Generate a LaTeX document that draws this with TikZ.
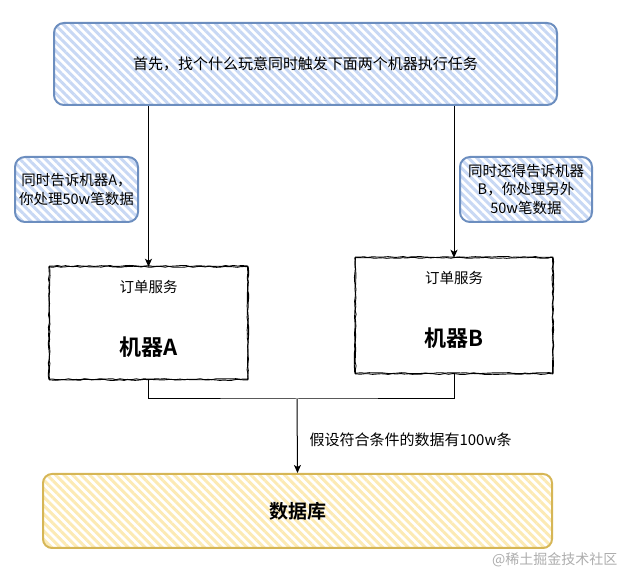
\documentclass[tikz,border=0pt]{standalone}
\usepackage{fontspec}
\setmainfont{Noto Sans CJK SC}[BoldFont={Noto Sans CJK SC Bold}]
\usetikzlibrary{arrows.meta,patterns.meta,decorations.pathmorphing}
\definecolor{bstroke}{HTML}{6C8EBF}
\definecolor{bhatch}{HTML}{C8D8F4}
\definecolor{ystroke}{HTML}{D6B656}
\definecolor{yhatch}{HTML}{FCEAB4}
\tikzset{
  txt/.style={font=\fontsize{14.5}{18.5}\selectfont},
  bluebox/.style={draw=bstroke, line width=2pt, rounded corners=10pt,
    pattern={Lines[angle=-45,distance=6pt,line width=3pt]}, pattern color=bhatch,
    align=center, inner sep=2pt, txt},
  dbbox/.style={draw=ystroke, line width=2pt, rounded corners=9pt,
    pattern={Lines[angle=-45,distance=6pt,line width=3pt]}, pattern color=yhatch,
    align=center},
  machine/.style={draw=none, fill=white, inner sep=0pt},
  sketch/.style={draw=black, line width=0.9pt,
    decorate, decoration={random steps, segment length=4pt, amplitude=0.55pt}},
  arr/.style={draw=black, line width=1pt, -{Stealth[length=8pt,width=7pt,inset=2pt]}},
  conn/.style={draw=black, line width=1pt},
}
\begin{document}
\begin{tikzpicture}[x=1pt,y=1pt]
\useasboundingbox (0,0) rectangle (625,572);
% top box
\node[bluebox, minimum width=503pt, minimum height=82pt, font=\fontsize{15}{19}\selectfont] (top) at (305.5,508)
  {首先，找个什么玩意同时触发下面两个机器执行任务};
% label boxes
\node[bluebox, minimum width=123pt, minimum height=65pt] (la) at (76.5,382.5)
  {同时告诉机器A，\\你处理50w笔数据};
\node[bluebox, minimum width=132pt, minimum height=65pt] (lb) at (526,382.5)
  {同时还得告诉机器\\B，你处理另外\\50w笔数据};
% machines
\node[machine, minimum width=199pt, minimum height=112pt] (ma) at (148.5,249) {};
\draw[sketch] (ma.south west) rectangle (ma.north east);
\draw[sketch] ([shift={(0.8,-0.7)}]ma.south west) rectangle ([shift={(-0.6,0.8)}]ma.north east);
\node[txt] (maT) at ([yshift=-20pt]ma.north) {订单服务};
\node[font=\fontsize{22}{26}\selectfont\bfseries] (maN) at ([yshift=-80pt]ma.north) {机器A};

\node[machine, minimum width=198pt, minimum height=115pt] (mb) at (454,256.5) {};
\draw[sketch] (mb.south west) rectangle (mb.north east);
\draw[sketch] ([shift={(0.8,-0.7)}]mb.south west) rectangle ([shift={(-0.6,0.8)}]mb.north east);
\node[txt] (mbT) at ([yshift=-20pt]mb.north) {订单服务};
\node[font=\fontsize{22}{26}\selectfont\bfseries] (mbN) at ([yshift=-80pt]mb.north) {机器B};

% database
\node[dbbox, minimum width=509pt, minimum height=74pt, font=\fontsize{19}{23}\selectfont\bfseries] (db) at (297.5,61) {数据库};

% connectors
\draw[arr] (top.south -| ma.north) -- (ma.north);
\draw[arr] (top.south -| mb.north) -- (mb.north);
\coordinate (j) at (297,173);
\draw[conn] (ma.south) |- (j) -| (mb.south);
\draw[arr] (j) -- (db.north);
\node[txt, anchor=west, font=\fontsize{15}{19}\selectfont] (lbl) at (306,132) {假设符合条件的数据有100w条};

% watermark
\node[text=black!32, font=\fontsize{14}{16}\selectfont, anchor=east] (wm) at (621,12) {@稀土掘金技术社区};
\end{tikzpicture}
\end{document}
